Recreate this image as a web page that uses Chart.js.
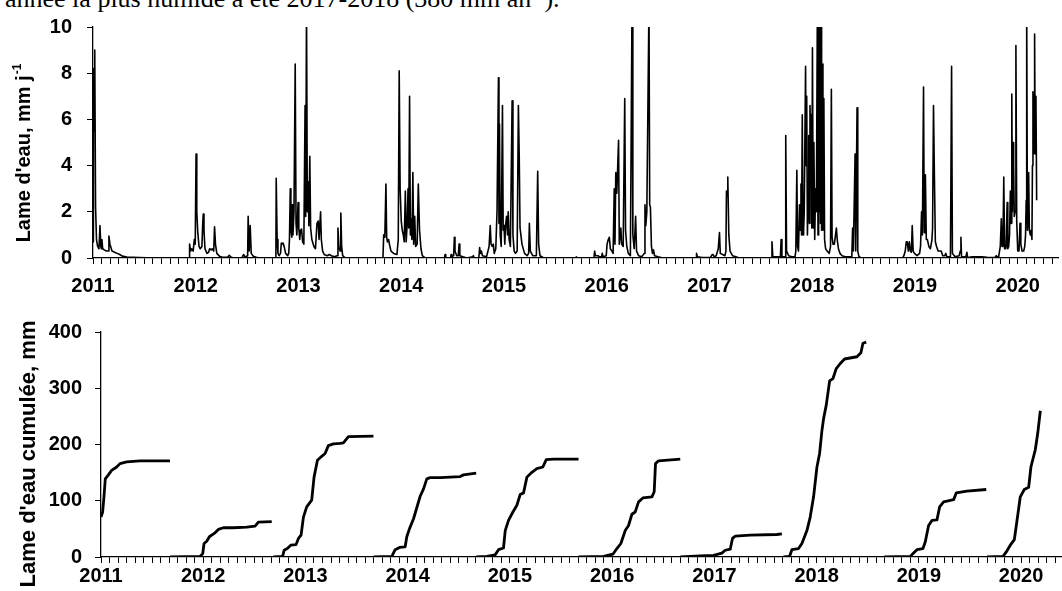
<!DOCTYPE html>
<html lang="fr">
<head>
<meta charset="UTF-8">
<title>Lame d'eau journalière et cumulée 2011-2020</title>
<script src="https://cdn.jsdelivr.net/npm/chart.js"></script>
<style>
    body {
        margin: 0;
        background: #fff;
        width: 1062px;
        height: 591px;
        overflow: hidden;
        position: relative;
    }
    .caption {
        position: absolute;
        left: 5px;
        top: -14px;
        font-family: 'Liberation Serif', 'Times New Roman', serif;
        font-size: 26px;
        line-height: 26px;
        white-space: nowrap;
        color: #000;
    }
    .caption sup {
        font-size: 0.6em;
        line-height: 0;
    }
    .chart-box {
        position: absolute;
        left: 0;
        width: 1062px;
    }
    #dailyBox { top: 0; height: 300px; }
    #cumulBox { top: 300px; height: 291px; }
</style>
</head>
<body>
<div class="caption">année la plus humide a été 2017-2018 (380 mm an<sup>-1</sup>).</div>
<div class="chart-box" id="dailyBox"><canvas id="dailyChart"></canvas></div>
<div class="chart-box" id="cumulBox"><canvas id="cumulChart"></canvas></div>

<script>
// year labels on the time axis
const years = [2011, 2012, 2013, 2014, 2015, 2016, 2017, 2018, 2019, 2020];

// daily water depth (mm/d), [decimal year, value]
const daily2011 = [[2011.000,0.7],[2011.004,8.2],[2011.010,5.5],[2011.017,9.0],[2011.025,2.2],[2011.034,0.8],[2011.045,0.5],[2011.058,0.4],[2011.068,1.4],[2011.076,0.5],[2011.082,0.4],[2011.087,0.8],[2011.094,0.4],[2011.110,0.35],[2011.130,0.3],[2011.148,0.3],[2011.155,0.95],[2011.165,0.6],[2011.185,0.3],[2011.210,0.25],[2011.235,0.2],[2011.260,0.15],[2011.285,0.08],[2011.330,0.04],[2011.450,0.02],[2011.600,0],[2011.930,0]];
const daily2012 = [[2011.935,0],[2011.940,0.6],[2011.950,0.3],[2011.960,0.4],[2011.975,0.3],[2011.986,0.8],[2011.995,0.6],[2012.003,4.5],[2012.010,2.0],[2012.020,1.1],[2012.032,0.5],[2012.044,0.4],[2012.060,0.5],[2012.068,1.5],[2012.073,1.9],[2012.080,1.2],[2012.090,0.4],[2012.109,0.2],[2012.125,0.25],[2012.135,0.4],[2012.150,0.35],[2012.160,0.4],[2012.175,0.3],[2012.183,1.35],[2012.192,0.6],[2012.205,0.2],[2012.230,0.08],[2012.260,0.03],[2012.310,0.03],[2012.326,0.12],[2012.345,0.03],[2012.374,0],[2012.450,0.02],[2012.465,0.15],[2012.480,0.04],[2012.505,0.1],[2012.510,1.8],[2012.520,0.3],[2012.530,1.4],[2012.540,0.2],[2012.560,0.08],[2012.590,0.03],[2012.620,0],[2012.780,0]];
const daily2013 = [[2012.783,3.45],[2012.792,0.8],[2012.800,0.2],[2012.811,0.1],[2012.825,0.2],[2012.833,0.65],[2012.840,0.6],[2012.850,0.65],[2012.860,0.5],[2012.875,0.2],[2012.895,0.1],[2012.905,0.2],[2012.912,0.8],[2012.920,3.0],[2012.926,1.2],[2012.935,0.9],[2012.940,2.3],[2012.946,1.0],[2012.956,2.0],[2012.968,8.4],[2012.976,1.5],[2012.984,1.0],[2012.996,2.4],[2013.003,1.3],[2013.012,0.8],[2013.020,1.2],[2013.030,1.25],[2013.040,0.7],[2013.052,0.6],[2013.064,6.6],[2013.070,1.8],[2013.078,11],[2013.086,2.0],[2013.095,3.3],[2013.101,1.4],[2013.110,4.4],[2013.118,1.3],[2013.130,0.8],[2013.150,0.5],[2013.165,0.4],[2013.180,1.5],[2013.192,1.6],[2013.200,0.8],[2013.215,2.0],[2013.222,0.8],[2013.235,0.3],[2013.250,0.15],[2013.279,0.1],[2013.300,0.15],[2013.320,0.1],[2013.350,0.05],[2013.375,0.1],[2013.384,1.3],[2013.393,0.5],[2013.405,0.3],[2013.412,1.95],[2013.420,0.5],[2013.430,0.1],[2013.457,0],[2013.822,0]];
const daily2014 = [[2013.829,1.0],[2013.840,0.9],[2013.851,3.2],[2013.858,0.9],[2013.865,0.7],[2013.877,0.8],[2013.885,0.6],[2013.900,0.3],[2013.926,0.2],[2013.958,0.15],[2013.971,0.8],[2013.980,8.1],[2013.989,3.0],[2014.000,1.6],[2014.010,1.2],[2014.020,1.0],[2014.029,0.7],[2014.040,2.9],[2014.048,0.7],[2014.058,1.5],[2014.066,3.0],[2014.073,1.3],[2014.081,7.0],[2014.089,1.0],[2014.096,1.7],[2014.104,0.8],[2014.113,3.7],[2014.121,0.6],[2014.131,1.8],[2014.140,0.5],[2014.155,0.6],[2014.166,3.2],[2014.178,1.2],[2014.192,0.4],[2014.205,0.1],[2014.230,0.02],[2014.260,0],[2014.420,0],[2014.427,0.15],[2014.433,0],[2014.480,0],[2014.485,0.15],[2014.492,0.05],[2014.510,0.1],[2014.517,0.9],[2014.523,0.3],[2014.540,0.1],[2014.555,0.1],[2014.563,0.6],[2014.570,0.1],[2014.600,0.05],[2014.637,0],[2014.695,0.05],[2014.702,0.1],[2014.710,0],[2014.755,0]];
const daily2015 = [[2014.763,0.45],[2014.770,0.2],[2014.780,0.3],[2014.790,0.1],[2014.830,0.05],[2014.855,0.5],[2014.866,1.4],[2014.874,0.6],[2014.885,0.5],[2014.896,0.6],[2014.905,0.2],[2014.920,0.4],[2014.932,2.0],[2014.946,7.8],[2014.951,1.5],[2014.956,5.8],[2014.963,1.0],[2014.973,0.5],[2014.985,6.6],[2014.992,1.2],[2015.000,1.4],[2015.008,0.6],[2015.015,1.4],[2015.025,1.8],[2015.035,1.0],[2015.041,2.0],[2015.050,0.8],[2015.062,0.5],[2015.079,6.8],[2015.087,1.0],[2015.099,0.3],[2015.112,0.2],[2015.128,0.3],[2015.140,6.6],[2015.148,4.5],[2015.156,1.3],[2015.175,0.6],[2015.200,0.2],[2015.225,0.1],[2015.240,0.2],[2015.247,1.5],[2015.256,0.3],[2015.280,0.1],[2015.315,0.1],[2015.328,3.75],[2015.337,0.6],[2015.350,0.1],[2015.380,0.02],[2015.420,0],[2015.700,0]];
const daily2016 = [[2015.704,0.05],[2015.712,0],[2015.875,0],[2015.882,0.3],[2015.890,0.1],[2015.914,0.1],[2015.930,0.05],[2015.950,0.05],[2015.956,0.2],[2015.965,0.05],[2015.995,0.1],[2016.003,0.6],[2016.015,0.8],[2016.025,0.9],[2016.035,0.4],[2016.050,0.3],[2016.062,0.2],[2016.073,3.0],[2016.080,0.6],[2016.088,3.7],[2016.098,2.8],[2016.115,5.1],[2016.122,0.6],[2016.130,1.0],[2016.137,1.3],[2016.145,0.6],[2016.160,0.5],[2016.175,6.9],[2016.183,1.2],[2016.195,0.5],[2016.210,0.2],[2016.230,0.1],[2016.246,11],[2016.254,1.0],[2016.267,0.4],[2016.281,1.8],[2016.290,0.3],[2016.310,0.1],[2016.340,0.05],[2016.365,0.2],[2016.372,2.3],[2016.380,1.4],[2016.390,2.0],[2016.411,11],[2016.418,2.3],[2016.425,2.2],[2016.435,0.5],[2016.445,0.2],[2016.455,0.35],[2016.465,0.1],[2016.500,0.05],[2016.545,0],[2016.870,0]];
const daily2017 = [[2016.874,0.2],[2016.882,0.05],[2016.930,0.02],[2017.010,0.03],[2017.025,0.15],[2017.035,0.15],[2017.046,0.05],[2017.065,0.1],[2017.085,0.4],[2017.097,1.1],[2017.105,0.2],[2017.127,0.15],[2017.150,0.1],[2017.160,0.3],[2017.165,2.9],[2017.172,2.7],[2017.178,3.5],[2017.188,1.0],[2017.200,0.3],[2017.224,0.1],[2017.256,0.05],[2017.290,0],[2017.600,0]];
const daily2018 = [[2017.608,0.7],[2017.616,0.05],[2017.690,0.05],[2017.697,0.8],[2017.705,0.05],[2017.735,0.05],[2017.742,5.3],[2017.750,0.3],[2017.770,0.1],[2017.800,0.05],[2017.832,0.05],[2017.840,0.3],[2017.850,3.8],[2017.857,0.5],[2017.866,0.3],[2017.876,2.3],[2017.882,1.2],[2017.890,3.2],[2017.896,1.0],[2017.903,6.2],[2017.910,1.0],[2017.916,1.2],[2017.922,2.0],[2017.935,8.3],[2017.941,4.0],[2017.946,7.0],[2017.953,1.0],[2017.960,2.6],[2017.966,5.3],[2017.972,1.5],[2017.978,6.6],[2017.984,5.5],[2017.990,6.2],[2017.996,1.3],[2018.002,9.1],[2018.009,1.3],[2018.016,5.0],[2018.024,0.8],[2018.032,3.0],[2018.040,2.0],[2018.050,11],[2018.056,1.0],[2018.062,11],[2018.068,2.0],[2018.074,11],[2018.080,1.5],[2018.086,11],[2018.091,1.2],[2018.097,8.4],[2018.104,1.2],[2018.113,6.9],[2018.120,0.8],[2018.130,0.4],[2018.145,0.3],[2018.165,0.2],[2018.178,0.5],[2018.186,7.3],[2018.193,0.9],[2018.202,0.6],[2018.215,0.6],[2018.235,1.3],[2018.243,0.8],[2018.255,0.4],[2018.270,0.2],[2018.290,0.1],[2018.320,0.05],[2018.385,0.05],[2018.393,1.3],[2018.400,0.3],[2018.417,4.5],[2018.423,0.3],[2018.436,6.5],[2018.443,0.3],[2018.455,0.05],[2018.480,0],[2018.880,0]];
const daily2019 = [[2018.892,0.1],[2018.905,0.3],[2018.915,0.7],[2018.925,0.7],[2018.935,0.3],[2018.945,0.7],[2018.955,0.3],[2018.965,0.25],[2018.973,1.4],[2018.982,0.3],[2018.995,0.2],[2019.020,0.1],[2019.045,0.2],[2019.054,0.5],[2019.064,2.0],[2019.072,1.0],[2019.083,7.4],[2019.090,1.1],[2019.097,1.5],[2019.101,3.6],[2019.110,0.8],[2019.120,0.8],[2019.135,0.5],[2019.150,0.4],[2019.165,0.8],[2019.171,1.3],[2019.180,6.6],[2019.189,3.5],[2019.198,0.7],[2019.210,0.5],[2019.225,0.3],[2019.240,0.3],[2019.255,0.3],[2019.270,0.1],[2019.290,0.1],[2019.300,0.2],[2019.310,0.05],[2019.345,0.05],[2019.356,8.3],[2019.364,0.2],[2019.390,0.05],[2019.430,0.1],[2019.440,0.3],[2019.447,0.9],[2019.453,0.05],[2019.495,0.05],[2019.505,0.25],[2019.512,0.02],[2019.560,0.05],[2019.600,0.05],[2019.650,0.05],[2019.700,0.03],[2019.760,0.02]];
const daily2020 = [[2019.780,0.02],[2019.791,0.1],[2019.800,0.05],[2019.814,0.05],[2019.830,0.5],[2019.840,1.7],[2019.847,0.5],[2019.856,0.6],[2019.864,3.5],[2019.872,0.4],[2019.882,0.4],[2019.887,0.5],[2019.897,2.4],[2019.903,0.4],[2019.912,0.5],[2019.920,1.0],[2019.928,2.9],[2019.935,1.5],[2019.942,7.1],[2019.948,2.0],[2019.955,5.0],[2019.960,4.0],[2019.966,1.8],[2019.974,2.0],[2019.982,9.2],[2019.990,1.6],[2020.000,0.3],[2020.012,0.3],[2020.022,1.5],[2020.030,0.6],[2020.042,0.3],[2020.058,0.3],[2020.068,0.5],[2020.076,1.0],[2020.082,2.5],[2020.087,11],[2020.094,1.2],[2020.100,1.5],[2020.106,3.7],[2020.113,1.2],[2020.122,1.0],[2020.130,1.2],[2020.138,0.8],[2020.143,4.0],[2020.148,7.2],[2020.154,4.5],[2020.159,5.0],[2020.164,9.7],[2020.170,4.5],[2020.177,7.0],[2020.184,2.5]];

// cumulated water depth (mm) per hydrological year
const cumul2011 = [[2011.000,71],[2011.016,80],[2011.029,107],[2011.042,139],[2011.072,146],[2011.104,154],[2011.153,160],[2011.186,166],[2011.251,169],[2011.382,171],[2011.675,171]];
const cumul2012 = [[2011.675,0],[2011.969,1],[2011.995,6],[2012.008,24],[2012.034,28],[2012.060,36],[2012.083,39],[2012.115,43],[2012.148,49],[2012.197,52],[2012.295,52],[2012.425,53],[2012.507,55],[2012.539,62],[2012.670,63]];
const cumul2013 = [[2012.686,0],[2012.777,1],[2012.791,12],[2012.822,15],[2012.856,21],[2012.908,22],[2012.931,33],[2012.957,39],[2012.980,71],[2013.012,89],[2013.061,101],[2013.084,142],[2013.117,172],[2013.159,179],[2013.192,184],[2013.224,198],[2013.273,201],[2013.339,202],[2013.371,203],[2013.420,214],[2013.665,215]];
const cumul2014 = [[2013.665,0],[2013.845,1],[2013.877,13],[2013.920,17],[2013.975,18],[2013.991,36],[2014.017,50],[2014.057,68],[2014.096,92],[2014.122,108],[2014.155,121],[2014.187,139],[2014.220,141],[2014.318,141],[2014.513,143],[2014.546,146],[2014.670,149]];
const cumul2015 = [[2014.670,0],[2014.774,1],[2014.856,4],[2014.888,13],[2014.937,16],[2014.954,47],[2014.986,65],[2015.029,80],[2015.068,92],[2015.100,111],[2015.133,114],[2015.166,142],[2015.205,149],[2015.263,157],[2015.322,160],[2015.355,173],[2015.427,174],[2015.671,174]];
const cumul2016 = [[2015.671,0],[2015.916,1],[2016.007,5],[2016.046,15],[2016.085,24],[2016.128,47],[2016.160,56],[2016.193,76],[2016.225,80],[2016.258,98],[2016.300,105],[2016.389,107],[2016.411,116],[2016.424,166],[2016.454,171],[2016.666,174]];
const cumul2017 = [[2016.666,0],[2016.861,2],[2016.991,3],[2017.073,7],[2017.106,12],[2017.155,14],[2017.177,33],[2017.204,37],[2017.350,39],[2017.611,40],[2017.660,41]];
const cumul2018 = [[2017.676,0],[2017.735,1],[2017.758,13],[2017.823,15],[2017.856,24],[2017.905,47],[2017.937,71],[2017.970,107],[2018.003,160],[2018.029,184],[2018.052,225],[2018.068,246],[2018.094,270],[2018.127,313],[2018.159,317],[2018.192,335],[2018.231,344],[2018.273,352],[2018.394,356],[2018.433,363],[2018.453,380],[2018.485,382]];
const cumul2019 = [[2018.661,0],[2018.916,1],[2018.948,7],[2018.981,13],[2019.040,15],[2019.063,27],[2019.095,56],[2019.128,65],[2019.177,66],[2019.203,89],[2019.242,98],[2019.340,102],[2019.366,114],[2019.470,117],[2019.659,120]];
const cumul2020 = [[2019.666,0],[2019.823,1],[2019.855,9],[2019.894,21],[2019.934,31],[2019.960,65],[2019.992,107],[2020.031,120],[2020.074,124],[2020.096,160],[2020.139,191],[2020.162,219],[2020.188,260]];

const FONT = "'Liberation Sans', Arial, sans-serif";
const X_MIN = 2011;
const X_MAX = 2020.4;

// one tick mark per month, labels only on the years
const monthTicks = [];
for (let m = 0; X_MIN + m / 12 <= X_MAX + 1e-9; m++) {
    monthTicks.push(X_MIN + m / 12);
}

function yearLabel(value) {
    const y = Math.round(value);
    return Math.abs(value - y) < 1e-6 && years.includes(y) ? String(y) : '';
}

function xAxis(labelPadding, boxHeight) {
    return {
        type: 'linear',
        min: X_MIN,
        max: X_MAX,
        afterBuildTicks: scale => {
            scale.ticks = monthTicks.map(v => ({ value: v }));
        },
        afterFit: scale => {
            scale.height = boxHeight;
        },
        ticks: {
            autoSkip: false,
            maxRotation: 0,
            minRotation: 0,
            padding: labelPadding,
            color: '#000',
            font: { family: FONT, size: 20, weight: 'bold' },
            callback: yearLabel
        },
        grid: { drawOnChartArea: false, drawTicks: true, tickLength: 6, color: '#000', lineWidth: 1 },
        border: { display: true, color: '#000', width: 1.3 }
    };
}

function yAxis(max, step, boxWidth, labelPadding) {
    return {
        min: 0,
        max: max,
        afterFit: scale => {
            scale.width = boxWidth;
        },
        ticks: {
            stepSize: step,
            padding: labelPadding,
            color: '#000',
            font: { family: FONT, size: 20, weight: 'bold' }
        },
        grid: { drawOnChartArea: false, drawTicks: true, tickLength: 6, color: '#000', lineWidth: 1 },
        border: { display: true, color: '#000', width: 1.3 }
    };
}

// vertical axis title, with an optional superscript, a bit below the axis centre
const axisTitle = {
    id: 'axisTitle',
    afterDraw(chart, args, opts) {
        const { ctx, chartArea } = chart;
        const mainFont = `bold ${opts.size}px ${FONT}`;
        const supFont = `bold ${Math.round(opts.size * 0.6)}px ${FONT}`;
        ctx.save();
        ctx.translate(opts.x, (chartArea.top + chartArea.bottom) / 2 + opts.shift);
        ctx.rotate(-Math.PI / 2);
        ctx.fillStyle = '#000';
        ctx.textBaseline = 'middle';
        ctx.textAlign = 'left';
        ctx.font = mainFont;
        const w1 = ctx.measureText(opts.text).width;
        let w2 = 0;
        if (opts.sup) {
            ctx.font = supFont;
            w2 = ctx.measureText(opts.sup).width;
        }
        const start = -(w1 + w2) / 2;
        ctx.font = mainFont;
        ctx.fillText(opts.text, start, 0);
        if (opts.sup) {
            ctx.font = supFont;
            ctx.fillText(opts.sup, start + w1 + 1, -opts.size * 0.33);
        }
        ctx.restore();
    }
};

function lineSet(points, width) {
    return {
        data: points,
        borderColor: '#000',
        borderWidth: width,
        borderJoinStyle: 'round',
        pointRadius: 0,
        tension: 0,
        fill: false
    };
}

// top panel: daily water depth
const dailySeries = [].concat(daily2011, daily2012, daily2013, daily2014, daily2015,
    daily2016, daily2017, daily2018, daily2019, daily2020);

new Chart(document.getElementById('dailyChart'), {
    type: 'line',
    data: { datasets: [lineSet(dailySeries, 1.6)] },
    plugins: [axisTitle],
    options: {
        responsive: true,
        maintainAspectRatio: false,
        animation: false,
        events: [],
        layout: { padding: { top: 25, right: 0, bottom: 0, left: 0 } },
        plugins: {
            legend: { display: false },
            tooltip: { enabled: false },
            axisTitle: { text: "Lame d'eau, mm j", sup: '-1', size: 20, x: 24.5, shift: 11 }
        },
        scales: {
            x: xAxis(10, 42),
            y: yAxis(10, 2, 93, 15)
        }
    }
});

// bottom panel: cumulated water depth per hydrological year
const cumulSeries = [cumul2011, cumul2012, cumul2013, cumul2014, cumul2015,
    cumul2016, cumul2017, cumul2018, cumul2019, cumul2020];

new Chart(document.getElementById('cumulChart'), {
    type: 'line',
    data: { datasets: cumulSeries.map(s => lineSet(s, 2.8)) },
    plugins: [axisTitle],
    options: {
        responsive: true,
        maintainAspectRatio: false,
        animation: false,
        events: [],
        layout: { padding: { top: 32, right: 0, bottom: 0, left: 0 } },
        plugins: {
            legend: { display: false },
            tooltip: { enabled: false },
            axisTitle: { text: "Lame d'eau cumulée, mm", size: 22, x: 28.5, shift: 9.5 }
        },
        scales: {
            x: xAxis(1, 34),
            y: yAxis(400, 100, 101, 13)
        }
    }
});
</script>
</body>
</html>
